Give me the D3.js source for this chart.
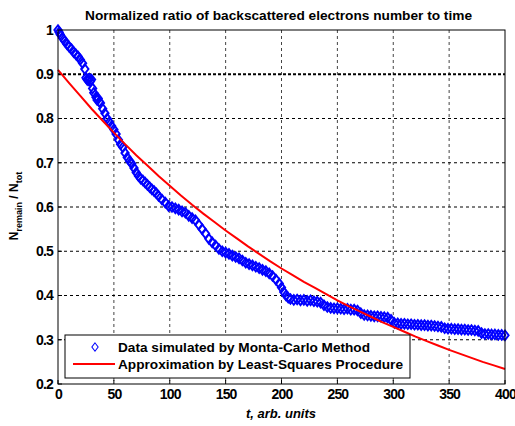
<!DOCTYPE html>
<html><head><meta charset="utf-8">
<script src="https://cdn.jsdelivr.net/npm/d3@7"></script>
<style>
html,body{margin:0;padding:0;background:#fff;}
text{font-family:"Liberation Sans",Arial,sans-serif;font-weight:bold;}
</style></head>
<body>
<svg id="c" width="515" height="426"></svg>
<script>
const titleText = "Normalized ratio of backscattered electrons number to time";
const xLabelText = "t, arb. units";
const legendLabels = ["Data simulated by Monta-Carlo Method", "Approximation by Least-Squares Procedure"];
const xTicks = [0,50,100,150,200,250,300,350,400];
const yTicks = [0.2,0.3,0.4,0.5,0.6,0.7,0.8,0.9,1];
const yTickLabels = ["0.2","0.3","0.4","0.5","0.6","0.7","0.8","0.9","1"];

// Monte-Carlo data (diamonds)
const dataT = [0,1,2,4,6,8,10,12,14,16,18,20,22,24,25,26,27,28,29,30,31,32,34,35,36,37,38,40,42,44,46,48,50,52,54,56,58,60,62,64,66,68,70,72,74,76,78,80,82,84,86,88,90,93,96,99,102,105,108,111,114,117,120,123,126,129,132,135,138,141,144,147,150,153,156,159,162,165,168,171,174,177,180,183,186,189,192,195,198,200,202,204,206,208,211,214,217,220,223,226,229,232,235,238,241,244,247,250,253,256,259,262,265,268,271,274,277,280,283,286,289,292,295,298,301,304,307,310,313,316,319,322,325,328,331,334,337,340,343,346,349,352,355,358,361,364,367,370,373,376,379,382,385,388,391,394,397,400];
const dataV = [1.000,0.995,0.990,0.982,0.975,0.968,0.962,0.957,0.950,0.945,0.940,0.933,0.925,0.912,0.892,0.888,0.886,0.890,0.884,0.888,0.868,0.858,0.848,0.842,0.845,0.838,0.835,0.822,0.812,0.800,0.792,0.783,0.775,0.765,0.752,0.742,0.735,0.722,0.712,0.704,0.698,0.688,0.678,0.670,0.664,0.660,0.655,0.650,0.645,0.640,0.636,0.631,0.625,0.617,0.610,0.602,0.600,0.597,0.594,0.590,0.587,0.580,0.575,0.570,0.560,0.550,0.540,0.528,0.520,0.513,0.505,0.500,0.497,0.494,0.490,0.487,0.484,0.479,0.474,0.471,0.468,0.465,0.462,0.458,0.455,0.450,0.444,0.436,0.427,0.418,0.408,0.400,0.395,0.392,0.390,0.391,0.389,0.390,0.388,0.389,0.387,0.386,0.384,0.378,0.374,0.372,0.371,0.371,0.370,0.369,0.370,0.368,0.368,0.366,0.360,0.356,0.355,0.354,0.353,0.353,0.352,0.351,0.350,0.345,0.338,0.337,0.336,0.336,0.335,0.335,0.334,0.334,0.333,0.333,0.332,0.332,0.331,0.330,0.329,0.326,0.325,0.325,0.324,0.324,0.323,0.323,0.322,0.322,0.321,0.320,0.315,0.313,0.313,0.312,0.312,0.311,0.311,0.310];

// Least-squares approximation (red line)
const fitT = [0,10,20,30,40,50,60,70,80,90,100,110,120,130,140,150,160,170,180,190,200,210,220,230,240,250,260,270,280,290,300,310,320,330,340,350,360,370,380,390,400];
const fitV = [0.910,0.880,0.851,0.822,0.795,0.768,0.742,0.717,0.694,0.670,0.648,0.626,0.605,0.585,0.566,0.547,0.529,0.511,0.494,0.477,0.461,0.446,0.431,0.417,0.403,0.389,0.376,0.364,0.352,0.340,0.329,0.318,0.307,0.297,0.287,0.277,0.268,0.259,0.250,0.242,0.234];

const svg = d3.select("#c");
const L=58,R=505,T=30,B=384;
const x = d3.scaleLinear().domain([0,400]).range([L,R]);
const y = d3.scaleLinear().domain([0.2,1]).range([B,T]);

// grid
const g = svg.append("g");
g.selectAll("line.vg").data(xTicks.slice(1,-1)).enter().append("line")
  .attr("x1",d=>x(d)).attr("x2",d=>x(d)).attr("y1",T).attr("y2",B)
  .attr("stroke","#444").attr("stroke-width",1).attr("stroke-dasharray","3,3");
g.selectAll("line.hg").data(yTicks.slice(1,-1)).enter().append("line")
  .attr("x1",L).attr("x2",R).attr("y1",d=>y(d)).attr("y2",d=>y(d))
  .attr("stroke","#000").attr("stroke-width",d=>d===0.9?2.2:1)
  .attr("stroke-dasharray",d=>d===0.9?"3,2":"3,3");

// axes
const fmtY = d=>yTickLabels[yTicks.indexOf(d)];
const xa = svg.append("g").attr("transform",`translate(0,${B})`)
  .call(d3.axisBottom(x).tickValues(xTicks).tickSize(0).tickPadding(5).tickFormat(d3.format("d")));
const ya = svg.append("g").attr("transform",`translate(${L},0)`)
  .call(d3.axisLeft(y).tickValues(yTicks).tickSize(0).tickPadding(5).tickFormat(fmtY));
[xa,ya].forEach(a=>{a.select(".domain").remove();
  a.selectAll("text").attr("fill","#000").style("font-size","14px").style("letter-spacing","-0.8px")
   .style("font-family","'Liberation Sans',Arial,sans-serif").style("font-weight","bold");});
// inward ticks
svg.append("g").selectAll("line").data(xTicks).enter().append("line")
  .attr("x1",d=>x(d)).attr("x2",d=>x(d)).attr("y1",B).attr("y2",B-4).attr("stroke","#000");
svg.append("g").selectAll("line").data(yTicks).enter().append("line")
  .attr("x1",L).attr("x2",L+4).attr("y1",d=>y(d)).attr("y2",d=>y(d)).attr("stroke","#000");

// data diamonds
const pts = dataT.map((t,i)=>[t,dataV[i]]);
const sym = d3.symbol().type(d3.symbolDiamond2).size(48);
svg.append("g").selectAll("path").data(pts).enter().append("path")
  .attr("transform",d=>`translate(${x(d[0])},${y(d[1])}) scale(0.85,1.1)`)
  .attr("d",sym).attr("fill","none").attr("stroke","#0000ff").attr("stroke-width",2);

// fit line
const fit = fitT.map((t,i)=>[t,fitV[i]]);
svg.append("path").datum(fit)
  .attr("d",d3.line().x(d=>x(d[0])).y(d=>y(d[1])))
  .attr("fill","none").attr("stroke","#ff0000").attr("stroke-width",2);

// frame
svg.append("rect").attr("x",L).attr("y",T).attr("width",R-L).attr("height",B-T)
  .attr("fill","none").attr("stroke","#000").attr("stroke-width",1);

// title
svg.append("text").attr("x",(85+472)/2).attr("y",20).attr("text-anchor","middle")
  .style("font-size","13px").attr("textLength",387).attr("lengthAdjust","spacingAndGlyphs")
  .text(titleText);

// x label
svg.append("text").attr("x",281).attr("y",418).attr("text-anchor","middle")
  .style("font-size","13px").style("font-style","italic").text(xLabelText);

// y label
const yl = svg.append("text").attr("transform","translate(18,206) rotate(-90)")
  .attr("text-anchor","middle").style("font-size","12px");
yl.append("tspan").text("N");
yl.append("tspan").attr("dy",4).style("font-size","9px").text("remain");
yl.append("tspan").attr("dy",-4).text(" / N");
yl.append("tspan").attr("dy",4).style("font-size","9px").text("tot");

// legend
const lg = svg.append("g");
lg.append("rect").attr("x",65).attr("y",335).attr("width",345).attr("height",43)
  .attr("fill","#fff").attr("stroke","#000").attr("stroke-width",1);
lg.append("path").attr("transform","translate(95,347) scale(0.85,1.1)").attr("d",d3.symbol().type(d3.symbolDiamond2).size(36))
  .attr("fill","none").attr("stroke","#0000ff").attr("stroke-width",1);
lg.append("line").attr("x1",73).attr("x2",115).attr("y1",364).attr("y2",364)
  .attr("stroke","#ff0000").attr("stroke-width",2);
lg.append("text").attr("x",118).attr("y",352).style("font-size","13px")
  .attr("textLength",252).attr("lengthAdjust","spacingAndGlyphs").text(legendLabels[0]);
lg.append("text").attr("x",118).attr("y",369).style("font-size","13px")
  .attr("textLength",285).attr("lengthAdjust","spacingAndGlyphs").text(legendLabels[1]);
</script>
</body></html>
